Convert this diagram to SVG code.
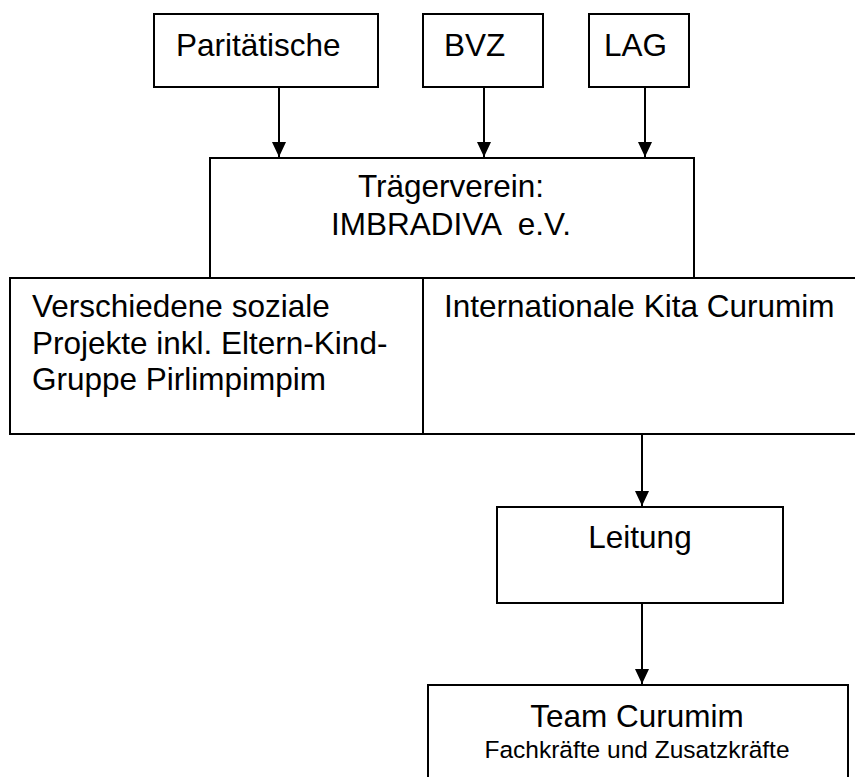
<svg xmlns="http://www.w3.org/2000/svg" width="855" height="777" viewBox="0 0 855 777">
<style>
.box{fill:#fff;stroke:#000;stroke-width:2}
.t{font-family:"Liberation Sans",Arial,sans-serif;font-size:31.5px;fill:#000}
.s{font-family:"Liberation Sans",Arial,sans-serif;font-size:24.5px;fill:#000}
.c{stroke:#000;stroke-width:2;fill:none}
</style>
<defs>
<marker id="ah" markerUnits="userSpaceOnUse" markerWidth="16" markerHeight="16" viewBox="0 0 16 16" refX="15" refY="8" orient="auto">
<path d="M0,1 L15,8 L0,15 Z" fill="#000"/>
</marker>
</defs>
<rect width="855" height="777" fill="#fff"/>
<g id="paritaetische"><rect class="box" x="154" y="14" width="224" height="73"/><text class="t" x="176" y="56">Paritätische</text></g>
<g id="bvz"><rect class="box" x="423" y="14" width="120" height="73"/><text class="t" x="444" y="56">BVZ</text></g>
<g id="lag"><rect class="box" x="589" y="14" width="100" height="73"/><text class="t" x="604" y="56">LAG</text></g>
<g id="traegerverein"><rect class="box" x="210" y="158" width="484" height="120"/><text class="t" x="451" y="197" text-anchor="middle">Trägerverein:</text><text class="t" x="451" y="235" text-anchor="middle" xml:space="preserve">IMBRADIVA  e.V.</text></g>
<g id="projekte"><rect class="box" x="10" y="278" width="413" height="156"/><text class="t" x="32" y="317">Verschiedene soziale</text><text class="t" x="32" y="354">Projekte inkl. Eltern-Kind-</text><text class="t" x="32" y="390">Gruppe Pirlimpimpim</text></g>
<g id="kita"><rect class="box" x="423" y="278" width="440" height="156"/><text class="t" x="444" y="317">Internationale Kita Curumim</text></g>
<g id="leitung"><rect class="box" x="497" y="507" width="286" height="96"/><text class="t" x="640" y="548" text-anchor="middle">Leitung</text></g>
<g id="team"><rect class="box" x="428" y="685" width="420" height="110"/><text class="t" x="637" y="727" text-anchor="middle">Team Curumim</text><text class="s" x="637" y="758" text-anchor="middle">Fachkräfte und Zusatzkräfte</text></g>
<g id="connectors">
<line class="c" x1="279" y1="87" x2="279" y2="157" marker-end="url(#ah)"/>
<line class="c" x1="484" y1="87" x2="484" y2="157" marker-end="url(#ah)"/>
<line class="c" x1="645" y1="87" x2="645" y2="157" marker-end="url(#ah)"/>
<line class="c" x1="642" y1="434" x2="642" y2="506" marker-end="url(#ah)"/>
<line class="c" x1="642" y1="603" x2="642" y2="684" marker-end="url(#ah)"/>
</g>
</svg>
